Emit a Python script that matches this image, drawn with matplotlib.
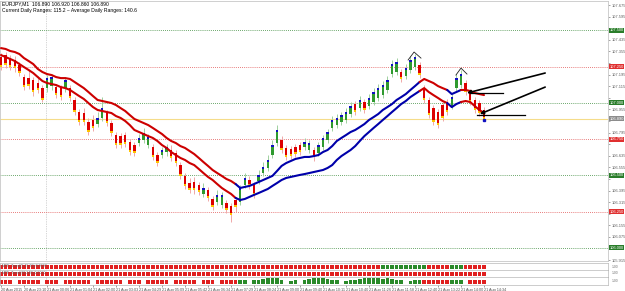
import numpy as np
import matplotlib
matplotlib.use("Agg")
import matplotlib.pyplot as plt

plt.rcParams["font.family"] = ["Liberation Sans", "DejaVu Sans"]

# EURJPY bars
opens = [107.316, 107.330, 107.309, 107.296, 107.261, 107.178, 107.171, 107.158, 107.137, 107.102,
         107.102, 107.116, 107.109, 107.102, 107.102, 107.102, 107.020, 106.937, 106.930, 106.868,
         106.882, 106.854, 106.896, 106.930, 106.861, 106.778, 106.771, 106.778, 106.730, 106.709,
         106.723, 106.744, 106.709, 106.696, 106.640, 106.640, 106.661, 106.675, 106.654, 106.571,
         106.496, 106.447, 106.454, 106.434, 106.372, 106.399, 106.337, 106.316, 106.296, 106.309,
         106.289, 106.330, 106.316, 106.434, 106.468, 106.434, 106.461, 106.516, 106.551, 106.640,
         106.723, 106.744, 106.689, 106.682, 106.696, 106.709, 106.696, 106.675, 106.675, 106.654,
         106.696, 106.744, 106.827, 106.847, 106.868, 106.882, 106.923, 106.992, 106.964, 107.006,
         106.978, 107.006, 107.034, 107.054, 107.089, 107.199, 107.213, 107.213, 107.185, 107.227,
         107.247, 107.261, 107.102, 107.020, 106.964, 106.937, 106.985, 107.006, 106.978, 107.102,
         107.123, 107.137, 107.075, 107.020, 106.999, 106.951]
highs = [107.344, 107.351, 107.330, 107.323, 107.282, 107.199, 107.227, 107.178, 107.185, 107.123,
         107.192, 107.199, 107.130, 107.123, 107.178, 107.123, 107.040, 106.958, 106.964, 106.896,
         106.916, 106.937, 107.040, 106.951, 106.882, 106.799, 106.792, 106.799, 106.751, 106.730,
         106.785, 106.827, 106.785, 106.716, 106.661, 106.696, 106.716, 106.709, 106.675, 106.592,
         106.516, 106.482, 106.489, 106.454, 106.447, 106.420, 106.358, 106.399, 106.385, 106.330,
         106.309, 106.351, 106.434, 106.516, 106.496, 106.454, 106.537, 106.592, 106.640, 106.744,
         106.847, 106.771, 106.709, 106.702, 106.716, 106.730, 106.758, 106.744, 106.696, 106.730,
         106.778, 106.820, 106.909, 106.923, 106.937, 106.964, 107.006, 107.013, 107.047, 107.027,
         107.061, 107.102, 107.130, 107.151, 107.185, 107.296, 107.309, 107.234, 107.268, 107.323,
         107.337, 107.282, 107.123, 107.040, 106.985, 106.958, 107.006, 107.027, 107.061, 107.199,
         107.227, 107.158, 107.096, 107.040, 107.020, 106.971]
lows = [107.227, 107.240, 107.227, 107.213, 107.185, 107.089, 107.096, 107.047, 107.068, 107.006,
        107.075, 107.089, 107.034, 107.020, 107.075, 107.013, 106.916, 106.847, 106.847, 106.778,
        106.806, 106.833, 106.875, 106.840, 106.771, 106.689, 106.689, 106.696, 106.640, 106.633,
        106.702, 106.723, 106.689, 106.606, 106.565, 106.620, 106.633, 106.599, 106.565, 106.475,
        106.406, 106.378, 106.372, 106.365, 106.351, 106.323, 106.261, 106.296, 106.275, 106.240,
        106.178, 106.247, 106.296, 106.413, 106.406, 106.344, 106.440, 106.496, 106.530, 106.620,
        106.702, 106.654, 106.606, 106.613, 106.627, 106.640, 106.675, 106.654, 106.599, 106.633,
        106.675, 106.723, 106.806, 106.827, 106.847, 106.861, 106.902, 106.916, 106.944, 106.930,
        106.958, 106.985, 107.013, 107.034, 107.068, 107.178, 107.192, 107.144, 107.165, 107.206,
        107.227, 107.171, 106.999, 106.896, 106.847, 106.827, 106.875, 106.916, 106.958, 107.082,
        107.102, 107.054, 106.985, 106.930, 106.909, 106.885]
closes = [107.247, 107.261, 107.247, 107.240, 107.206, 107.109, 107.116, 107.075, 107.089, 107.020,
          107.171, 107.178, 107.054, 107.040, 107.158, 107.034, 106.937, 106.868, 106.868, 106.799,
          106.827, 106.896, 106.964, 106.861, 106.792, 106.709, 106.709, 106.716, 106.661, 106.654,
          106.758, 106.792, 106.764, 106.627, 106.585, 106.675, 106.696, 106.620, 106.585, 106.496,
          106.427, 106.399, 106.399, 106.385, 106.413, 106.344, 106.282, 106.365, 106.365, 106.261,
          106.227, 106.282, 106.413, 106.482, 106.427, 106.365, 106.503, 106.558, 106.606, 106.709,
          106.813, 106.675, 106.627, 106.633, 106.647, 106.661, 106.730, 106.723, 106.627, 106.709,
          106.758, 106.799, 106.882, 106.896, 106.916, 106.937, 106.978, 106.937, 107.020, 106.951,
          107.034, 107.075, 107.102, 107.123, 107.158, 107.268, 107.282, 107.165, 107.240, 107.296,
          107.316, 107.192, 107.020, 106.916, 106.868, 106.847, 106.896, 106.937, 107.040, 107.171,
          107.199, 107.075, 107.006, 106.951, 106.930, 106.890]

# channel lines
band_hi = [107.378, 107.372, 107.358, 107.351, 107.337, 107.309, 107.289, 107.268, 107.234, 107.213,
           107.199, 107.192, 107.178, 107.171, 107.171, 107.165, 107.144, 107.123, 107.102, 107.075,
           107.047, 107.020, 107.013, 107.006, 106.999, 106.985, 106.964, 106.944, 106.916, 106.889,
           106.875, 106.861, 106.847, 106.827, 106.806, 106.785, 106.758, 106.737, 106.723, 106.702,
           106.689, 106.668, 106.647, 106.620, 106.592, 106.565, 106.537, 106.516, 106.496, 106.475,
           106.461, 106.440, 106.413, 106.420, 106.427, 106.440, 106.454, 106.468, 106.482, 106.496,
           106.530, 106.565, 106.585, 106.599, 106.613, 106.620, 106.627, 106.627, 106.633, 106.640,
           106.661, 106.675, 106.702, 106.737, 106.758, 106.778, 106.799, 106.813, 106.833, 106.854,
           106.882, 106.902, 106.923, 106.951, 106.971, 106.992, 107.020, 107.040, 107.061, 107.089,
           107.116, 107.144, 107.165, 107.151, 107.137, 107.116, 107.102, 107.089, 107.061, 107.075,
           107.089, 107.089, 107.082, 107.068, 107.061, 107.054]
band_lo = [107.330, 107.316, 107.303, 107.289, 107.268, 107.247, 107.227, 107.206, 107.178, 107.151,
           107.137, 107.130, 107.123, 107.109, 107.102, 107.089, 107.068, 107.047, 107.027, 106.999,
           106.971, 106.951, 106.944, 106.937, 106.930, 106.909, 106.896, 106.875, 106.847, 106.813,
           106.799, 106.785, 106.771, 106.758, 106.737, 106.709, 106.689, 106.661, 106.640, 106.620,
           106.606, 106.585, 106.571, 106.544, 106.516, 106.489, 106.468, 106.440, 106.413, 106.392,
           106.372, 106.344, 106.330, 106.337, 106.351, 106.365, 106.378, 106.392, 106.406, 106.427,
           106.447, 106.468, 106.482, 106.489, 106.496, 106.503, 106.509, 106.516, 106.523, 106.530,
           106.537, 106.551, 106.571, 106.606, 106.633, 106.654, 106.675, 106.702, 106.737, 106.771,
           106.799, 106.827, 106.854, 106.882, 106.909, 106.937, 106.964, 106.992, 107.013, 107.040,
           107.061, 107.082, 107.102, 107.075, 107.054, 107.034, 107.013, 106.999, 106.971, 106.992,
           107.006, 107.013, 107.006, 106.978, 106.951, 106.930]
trend_runs = [-1, 1, -1, 1, -1]
trend_lens = [52, 40, 6, 3, 5]

# indicator strips
strip1_runs = [-1, 1, -1, 1, -1]
strip1_lens = [83, 10, 5, 3, 5]
strip3 = [-0.7, -0.7, -0.7, 0, -0.7, -0.7, -0.7, -0.7, -0.7, 0,
          -0.7, -0.7, -0.7, 0, -0.7, -0.7, -0.7, -0.7, -0.7, -0.7,
          0, -0.7, -0.7, -0.7, -0.7, -0.7, -0.7, 0, -0.7, -0.7,
          -0.7, 0, -0.7, -0.7, -0.7, -0.7, -0.7, 0, -0.7, -0.7,
          -0.7, -0.7, -0.7, 0, -0.7, -0.7, -0.7, 0, -0.7, -0.7,
          -0.7, -0.7,
          0.6, 0.6, 0, 0.6, 0.7, 0.8, 0.9, 1.0, 0.9, 0.6,
          0, 0.5, 0.6, 0, 0.6, 0.8, 1.0, 1.0, 0.9, 0.8,
          0.7, 0.6, 0, 0.5, 0.6, 0.7, 0.8, 1.0, 1.0, 1.0,
          0.9, 0.8, 0.9, 0.8, 0.7, 0.6, 0, 0.5, 0.6, 0.6,
          -0.6, -0.6, -0.6, -0.6, -0.6, -0.6,
          0.6, 0.6, 0.6,
          0, -0.6, -0.6, -0.6, -0.6]

green_levels = [107.50, 107.00, 106.50, 106.00]
red_levels = [107.25, 106.75, 106.25]
last_price = 106.890

time_labels = ["20 Aug 2015", "20 Aug 23:10", "21 Aug 00:06", "21 Aug 01:04", "21 Aug 02:00",
               "21 Aug 03:03", "21 Aug 04:29", "21 Aug 05:09", "21 Aug 05:42", "21 Aug 06:34",
               "21 Aug 07:29", "21 Aug 08:24", "21 Aug 09:00", "21 Aug 09:40", "21 Aug 10:11",
               "21 Aug 10:40", "21 Aug 11:26", "21 Aug 11:58", "21 Aug 12:40", "21 Aug 13:22",
               "21 Aug 14:00", "21 Aug 14:34"]

# hand drawn marks (bar index, price)
arrows = [((118.3, 107.206), (101.3, 107.068)), ((118.3, 107.109), (104.1, 106.923))]
hlines_drawn = [(102.0, 109.2, 107.068), (103.5, 114.0, 106.916)]
hats = [([88.5, 89.8, 91.3], [107.296, 107.351, 107.309]),
        ([98.9, 100.0, 101.3], [107.192, 107.240, 107.199])]

N = len(closes)
x = np.arange(N)
XL = (-0.22, 131.96)

fig = plt.figure(figsize=(6.25, 2.91), dpi=100)
fig.patch.set_facecolor("white")
ax = fig.add_axes([0, 1 - 261 / 291, 608 / 625, 260 / 291])
s1 = fig.add_axes([0, 1 - 270 / 291, 608 / 625, 7 / 291])
s2 = fig.add_axes([0, 1 - 277 / 291, 608 / 625, 7 / 291])
s3 = fig.add_axes([0, 1 - 285 / 291, 608 / 625, 8 / 291])

ax.set_xlim(*XL)
ax.set_ylim(105.909, 107.703)

# levels
for lv in green_levels:
    ax.axhline(lv, color="#3a8a3a", lw=0.6, ls=(0, (1, 1.5)), zorder=1)
for lv in red_levels:
    ax.axhline(lv, color="#e05050", lw=0.6, ls=(0, (1, 1.5)), zorder=1)
ax.axhline(last_price, color="#f5dc8a", lw=0.8, zorder=1)
for a in (ax, s1, s2, s3):
    a.axvline(9.8, color="#b0b0b0", lw=0.5, ls=(0, (1, 1.5)), zorder=0)

# bars
opens, closes, highs, lows = map(np.array, (opens, closes, highs, lows))
up = closes >= opens
bw = 0.55
cap = 0.012
for i in range(N):
    ax.vlines(i, lows[i], highs[i], color="#a0d0a0" if up[i] else "#f0a8a8", lw=0.7, zorder=2)
    if up[i]:
        ax.bar(i, closes[i] - opens[i], bottom=opens[i], width=bw, color="#2f9a2f", zorder=3)
        ax.bar(i, cap, bottom=closes[i] - cap, width=bw, color="#1010c0", zorder=4)
    else:
        ax.bar(i, opens[i] - closes[i], bottom=closes[i], width=bw, color="#dd0000", zorder=3)
        ax.bar(i, cap, bottom=closes[i], width=bw, color="#ffc400", zorder=4)
ax.plot(x[-1], closes[-1] - 0.01, "s", color="#1010c0", ms=1.5, zorder=5)

# channel lines coloured by trend
hi_arr, lo_arr = np.array(band_hi), np.array(band_lo)
starts = np.cumsum([0] + trend_lens[:-1])
for s, ln, t in zip(starts, trend_lens, trend_runs):
    idx = np.arange(max(s - 1, 0), s + ln)
    col = "#cc0000" if t < 0 else "#0000aa"
    ax.plot(idx, hi_arr[idx], color=col, lw=1.5, zorder=5, solid_capstyle="round")
    ax.plot(idx, lo_arr[idx], color=col, lw=1.5, zorder=5, solid_capstyle="round")

# hand drawings
for (x0, y0), (x1, y1) in arrows:
    ax.annotate("", xy=(x1, y1), xytext=(x0, y0),
                arrowprops=dict(arrowstyle="-|>", color="black", lw=1.2,
                                mutation_scale=5, shrinkA=0, shrinkB=0), zorder=6)
for x0, x1, yv in hlines_drawn:
    ax.plot([x0, x1], [yv, yv], color="black", lw=0.9, zorder=6)
for hx, hy in hats:
    ax.plot(hx, hy, color="#222222", lw=0.6, zorder=6)

# right price axis, labels hidden where a level box sits
boxed = green_levels + red_levels + [last_price]
ticks = np.round(np.arange(105.915, 107.676, 0.08), 3)
ax.yaxis.tick_right()
ax.set_yticks(ticks)
ax.set_yticklabels(["" if min(abs(t - b) for b in boxed) < 0.035 else f"{t:.3f}" for t in ticks])
ax.tick_params(axis="y", labelsize=2.9, colors="#606060", length=1.5, width=0.4, pad=1.2)
ax.set_xticks([])
for sp in ax.spines.values():
    sp.set_color("#c8c8c8")
    sp.set_linewidth(0.6)


def price_box(lv, col):
    ax.text(1.0025, lv, f"{lv:.3f}", transform=ax.get_yaxis_transform(), fontsize=2.9,
            color="white", va="center", ha="left", zorder=7,
            bbox=dict(boxstyle="square,pad=0.12", fc=col, ec="none"))


for lv in green_levels:
    price_box(lv, "#2a7d2a")
for lv in red_levels:
    price_box(lv, "#e03030")
price_box(last_price, "#8c8c8c")

# header
fig.text(0.004, 0.994, "EURJPY,M1  106.890 106.920 106.860 106.890", fontsize=3.6, va="top")
fig.text(0.004, 0.972, "Current Daily Ranges: 115.2 ~ Average Daily Ranges: 140.6",
         fontsize=3.6, va="top")

# strips
strip1 = np.repeat(strip1_runs, strip1_lens)
for a in (s1, s2, s3):
    a.set_xlim(*XL)
    a.set_ylim(0, 1)
    a.set_yticks([])
    for sp in a.spines.values():
        sp.set_color("#b8b8b8")
        sp.set_linewidth(0.5)
    a.text(1.006, 0.5, "1.00", transform=a.transAxes, fontsize=2.4, color="#707070",
           va="center", ha="left")

s1.bar(x, 0.55, bottom=0.2, width=0.75,
       color=np.where(strip1 > 0, "#2a8a2a", "#e02020"))
s2.bar(x, 0.55, bottom=0.2, width=0.75, color="#e02020")
s3_vals = np.array(strip3)
s3.bar(x, np.abs(s3_vals) * 0.8, bottom=0.1, width=0.75,
       color=np.where(s3_vals > 0, "#2a8a2a", "#e02020"))
s1.text(0.003, 0.55, "MTF_Trend(5,15,30) 0.0000", transform=s1.transAxes, fontsize=2.5,
        color="#606060", va="center")
s2.text(0.003, 0.55, "MTF_Trend(60,240) 0.0000", transform=s2.transAxes, fontsize=2.5,
        color="#606060", va="center")
s1.set_xticks([])
s2.set_xticks([])
s3.set_xticks(np.arange(0, N, 5))
s3.set_xticklabels(time_labels, ha="left")
s3.tick_params(axis="x", labelsize=2.7, colors="#505050", length=1.2, width=0.4, pad=0.6)

fig.savefig("out.png", dpi=100)
